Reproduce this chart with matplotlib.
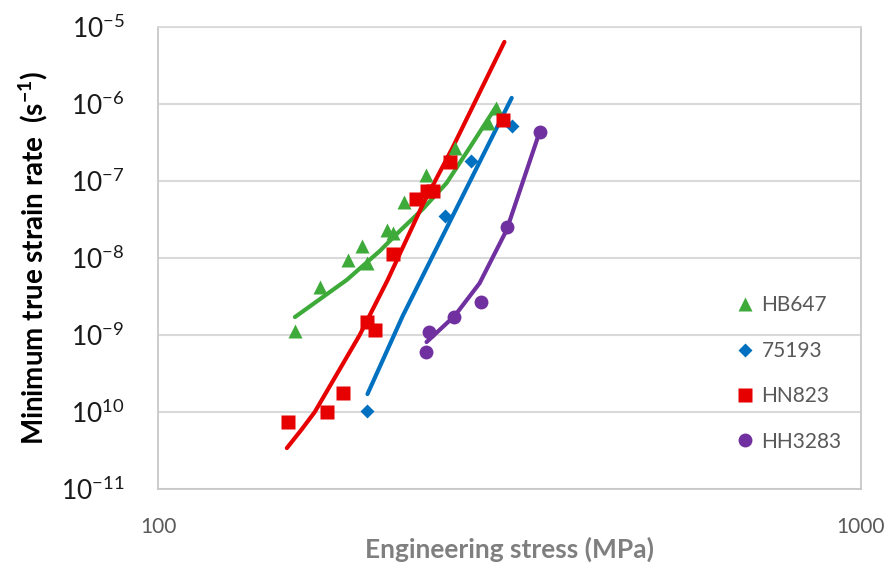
import matplotlib
matplotlib.use("Agg")
import matplotlib.pyplot as plt
from matplotlib.lines import Line2D
from matplotlib.ticker import FixedLocator, NullLocator

plt.rcParams['font.family'] = ['Lato', 'DejaVu Sans']
plt.rcParams['mathtext.fontset'] = 'custom'
plt.rcParams['mathtext.rm'] = 'Lato'
plt.rcParams['mathtext.it'] = 'Lato:italic'
plt.rcParams['mathtext.bf'] = 'Lato:bold'

# ---- data ----
series_names = ["HB647", "75193", "HN823", "HH3283"]

hb647_x = [156.6, 169.9, 186.2, 194.9, 198.2, 211.4, 215.7, 223.5, 240.4, 264.3, 295.2, 303.0]
hb647_y = [1.12e-9, 4.2e-9, 9.4e-9, 1.43e-8, 8.6e-9, 2.31e-8, 2.1e-8, 5.3e-8, 1.2e-7, 2.7e-7, 5.7e-7, 8.9e-7]
hb647_fit_x = [156.6, 185.6, 206.7, 220.7, 237.9, 257.3, 277.5, 303.0]
hb647_fit_y = [1.71e-9, 5.2e-9, 1.23e-8, 2.24e-8, 4.3e-8, 9.4e-8, 2.7e-7, 9.4e-7]

s75193_x = [198.6, 256.4, 279.2, 318.5]
s75193_y = [1.03e-10, 3.5e-8, 1.82e-7, 5.2e-7]
s75193_fit_x = [198.6, 222.9, 318.5]
s75193_fit_y = [1.71e-10, 1.77e-9, 1.2e-6]

hn823_x = [153.0, 173.8, 183.2, 198.2, 203.4, 215.7, 232.5, 241.0, 245.9, 259.9, 310.0]
hn823_y = [7.4e-11, 1.0e-10, 1.77e-10, 1.48e-9, 1.16e-9, 1.13e-8, 5.8e-8, 7.4e-8, 7.4e-8, 1.77e-7, 6.2e-7]
hn823_fit_x = [152.5, 160.0, 167.1, 193.6, 212.2, 237.9, 262.4, 311.0]
hn823_fit_y = [3.4e-11, 5.9e-11, 1.0e-10, 1.0e-9, 5.2e-9, 4.9e-8, 2.7e-7, 6.4e-6]

hh3283_x = [240.4, 243.3, 263.4, 287.6, 314.0, 348.9]
hh3283_y = [6.0e-10, 1.09e-9, 1.71e-9, 2.7e-9, 2.53e-8, 4.3e-7]
hh3283_fit_x = [241.0, 264.2, 286.7, 313.2, 348.9]
hh3283_fit_y = [8.1e-10, 1.77e-9, 4.7e-9, 2.3e-8, 4.3e-7]

y_ticks = [1e-11, 1e-10, 1e-9, 1e-8, 1e-7, 1e-6, 1e-5]
y_tick_labels = [r"$\mathregular{10^{-11}}$", r"$\mathregular{10^{10}}$", r"$\mathregular{10^{-9}}$",
                 r"$\mathregular{10^{-8}}$", r"$\mathregular{10^{-7}}$", r"$\mathregular{10^{-6}}$",
                 r"$\mathregular{10^{-5}}$"]
x_ticks = [100, 1000]
x_tick_labels = ["100", "1000"]

GREEN = "#3DAA3A"
BLUE = "#0070C0"
RED = "#E60000"
PURPLE = "#7030A0"

fig = plt.figure(figsize=(8.92, 5.72), dpi=100)
ax = fig.add_axes([158/892, 1-489/572, (861-158)/892, (489-27)/572])
ax.set_xscale('log')
ax.set_yscale('log')
ax.set_xlim(100, 1000)
ax.set_ylim(1e-11, 1e-5)

lw = 3.0
ax.plot(hb647_fit_x, hb647_fit_y, color=GREEN, lw=lw, solid_capstyle='round', solid_joinstyle='round', zorder=3)
ax.plot(s75193_fit_x, s75193_fit_y, color=BLUE, lw=lw, solid_capstyle='round', solid_joinstyle='round', zorder=3)
ax.plot(hn823_fit_x, hn823_fit_y, color=RED, lw=lw, solid_capstyle='round', solid_joinstyle='round', zorder=3)
ax.plot(hh3283_fit_x, hh3283_fit_y, color=PURPLE, lw=lw, solid_capstyle='round', solid_joinstyle='round', zorder=3)

ax.plot(hb647_x, hb647_y, ls='none', marker='^', ms=10.5, color=GREEN, mec='none', zorder=4)
ax.plot(s75193_x, s75193_y, ls='none', marker='D', ms=7, color=BLUE, mec='none', zorder=4)
ax.plot(hn823_x, hn823_y, ls='none', marker='s', ms=10.5, color=RED, mec='none', zorder=4)
ax.plot(hh3283_x, hh3283_y, ls='none', marker='o', ms=10, color=PURPLE, mec='none', zorder=4)

# grid & spines
ax.yaxis.set_major_locator(FixedLocator(y_ticks))
ax.yaxis.set_minor_locator(NullLocator())
ax.set_yticklabels(y_tick_labels)
ax.xaxis.set_major_locator(FixedLocator(x_ticks))
ax.xaxis.set_minor_locator(NullLocator())
ax.set_xticklabels(x_tick_labels)
ax.grid(True, axis='y', color='#D9D9D9', lw=1.5, zorder=0)
for s in ax.spines.values():
    s.set_color('#C8C8C8')
    s.set_linewidth(1.3)
ax.spines['top'].set_color('#D9D9D9')
ax.tick_params(axis='y', length=0, pad=24, labelsize=19, labelcolor='#1A1A1A')
ax.tick_params(axis='x', length=0, pad=20, labelsize=15, labelcolor='#595959')

ax.set_ylabel(r"Minimum true strain rate  (s$^{\mathbf{-1}}$)", fontsize=20, fontweight='bold',
              color='#000000', labelpad=8)
ax.set_xlabel("Engineering stress (MPa)", fontsize=19, fontweight='bold', color='#7F7F7F', labelpad=0)

handles = [
    Line2D([], [], ls='none', marker='^', ms=10, color=GREEN, mec='none'),
    Line2D([], [], ls='none', marker='D', ms=7, color=BLUE, mec='none'),
    Line2D([], [], ls='none', marker='s', ms=10, color=RED, mec='none'),
    Line2D([], [], ls='none', marker='o', ms=10, color=PURPLE, mec='none'),
]
leg = ax.legend(handles, series_names, loc='upper left', bbox_to_anchor=(726/892, 1-285/572),
                bbox_transform=fig.transFigure, frameon=False, fontsize=15, handlelength=0.8,
                handletextpad=0.4, labelspacing=1.22, borderpad=0)
for t in leg.get_texts():
    t.set_color('#595959')

fig.savefig("out.png", dpi=100)
